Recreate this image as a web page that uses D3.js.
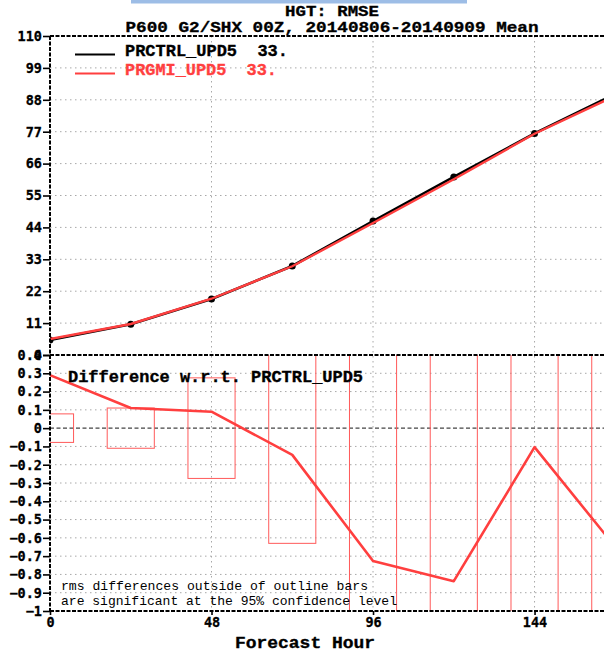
<!DOCTYPE html>
<html>
<head>
<meta charset="utf-8">
<script src="https://cdn.jsdelivr.net/npm/d3@7/dist/d3.min.js"></script>
<style>
  html, body { margin: 0; padding: 0; background: #fff; }
  svg { display: block; }
</style>
</head>
<body>
<script>
// Forecast hours verified
const hours = [0, 24, 48, 72, 96, 120, 144, 168];
// Mean RMSE of 600 hPa height for each experiment
const ctrlRmse = [5.2, 10.6, 19.3, 30.7, 46.2, 61.4, 76.4, 90.0];
const gmiRmse  = [5.5, 10.7, 19.4, 30.6, 45.5, 60.6, 76.3, 89.4];
// RMSE difference (PRGMI minus PRCTRL) and 95% significance half-widths
const rmseDiff = [0.29, 0.11, 0.09, -0.146, -0.727, -0.837, -0.104, -0.65];
const sigHalf  = [0.078, 0.11, 0.275, 0.63, 1.3, 1.5, 1.7, 1.9];
// Axis ticks
const rmseTicks = [0, 11, 22, 33, 44, 55, 66, 77, 88, 99, 110];
const diffTicks = [-1, -0.9, -0.8, -0.7, -0.6, -0.5, -0.4, -0.3, -0.2, -0.1, 0, 0.1, 0.2, 0.3, 0.4];
const hourTicks = [0, 48, 96, 144];
// Series labels
const seriesNames = ["PRCTRL_UPD5", "PRGMI_UPD5"];
const seriesCounts = ["33.", "33."];

const W = 604, H = 655;
const RED = "#ff3f3f";
const BAR = "#ff5a5a";
const MONO = "'Liberation Mono', 'DejaVu Sans Mono', monospace";
const NUM = "'DejaVu Sans Mono', 'Liberation Mono', monospace";

const svg = d3.select("body").append("svg").attr("width", W).attr("height", H);

const x = d3.scaleLinear().domain([0, 168]).range([50, 615.3]);
const yTop = d3.scaleLinear().domain([0, 110]).range([355, 36]);
const yBot = d3.scaleLinear().domain([-1, 0.4]).range([611, 355]);

const defs = svg.append("defs");
defs.append("clipPath").attr("id", "clipTop").append("rect")
  .attr("x", x(0)).attr("y", yTop(110)).attr("width", x(168) - x(0)).attr("height", yTop(0) - yTop(110));
defs.append("clipPath").attr("id", "clipBot").append("rect")
  .attr("x", x(0)).attr("y", yBot(0.4)).attr("width", x(168) - x(0)).attr("height", yBot(-1) - yBot(0.4));

// header strip
svg.append("rect").attr("x", 131).attr("y", 0).attr("width", 336).attr("height", 3.5).attr("fill", "#9dbde6");

// bold text helper: a thin outline thickens the glyphs
function heavy(sel, color) {
  return sel.attr("font-weight", "bold").attr("fill", color).attr("stroke", color).attr("stroke-width", 0.35);
}

// titles
heavy(svg.append("text"), "#000").attr("x", 332).attr("y", 15.5).attr("text-anchor", "middle")
  .attr("font-family", MONO).attr("font-size", 15.5)
  .attr("textLength", 94).attr("lengthAdjust", "spacingAndGlyphs").text("HGT: RMSE");
heavy(svg.append("text"), "#000").attr("x", 332).attr("y", 31.5).attr("text-anchor", "middle")
  .attr("font-family", MONO).attr("font-size", 15.5)
  .attr("textLength", 413).attr("lengthAdjust", "spacingAndGlyphs")
  .text("P600 G2/SHX 00Z, 20140806-20140909 Mean");

// grid
const grid = svg.append("g").attr("stroke", "#a8a8a8").attr("stroke-width", 1).attr("stroke-dasharray", "1.5,3.5");
rmseTicks.filter(v => v > 0 && v < 110).forEach(v => {
  grid.append("line").attr("x1", x(0)).attr("x2", x(168)).attr("y1", yTop(v)).attr("y2", yTop(v));
});
diffTicks.filter(v => v > -1 && v < 0.4 && v !== 0).forEach(v => {
  grid.append("line").attr("x1", x(0)).attr("x2", x(168)).attr("y1", yBot(v)).attr("y2", yBot(v));
});
hourTicks.filter(h => h > 0).forEach(h => {
  grid.append("line").attr("x1", x(h)).attr("x2", x(h)).attr("y1", yTop(110)).attr("y2", yBot(-1));
});

// zero line of the difference panel
svg.append("line").attr("x1", x(0)).attr("x2", x(168)).attr("y1", yBot(0)).attr("y2", yBot(0))
  .attr("stroke", "#444").attr("stroke-width", 1.3).attr("stroke-dasharray", "4,2.5");

// significance outline bars
const bars = svg.append("g").attr("clip-path", "url(#clipBot)");
hours.forEach((h, i) => {
  bars.append("rect")
    .attr("x", x(h - 7)).attr("width", x(h + 7) - x(h - 7))
    .attr("y", yBot(sigHalf[i])).attr("height", yBot(-sigHalf[i]) - yBot(sigHalf[i]))
    .attr("fill", "none").attr("stroke", BAR).attr("stroke-width", 1);
});

// difference line
svg.append("g").attr("clip-path", "url(#clipBot)").append("path")
  .datum(hours.map((h, i) => [h, rmseDiff[i]]))
  .attr("fill", "none").attr("stroke", RED).attr("stroke-width", 2.6).attr("stroke-linejoin", "round")
  .attr("d", d3.line().x(d => x(d[0])).y(d => yBot(d[1])));

// RMSE lines
const rmsePanel = svg.append("g").attr("clip-path", "url(#clipTop)");
const lineTop = d3.line().x(d => x(d[0])).y(d => yTop(d[1]));
rmsePanel.append("path").datum(hours.map((h, i) => [h, ctrlRmse[i]]))
  .attr("fill", "none").attr("stroke", "#000").attr("stroke-width", 2.6).attr("d", lineTop);
rmsePanel.selectAll("circle").data(hours.map((h, i) => [h, ctrlRmse[i]])).join("circle")
  .attr("cx", d => x(d[0])).attr("cy", d => yTop(d[1])).attr("r", 3.5).attr("fill", "#000");
rmsePanel.append("path").datum(hours.map((h, i) => [h, gmiRmse[i]]))
  .attr("fill", "none").attr("stroke", RED).attr("stroke-width", 2.4).attr("d", lineTop);

// frame lines
const frame = svg.append("g").attr("stroke", "#000").attr("stroke-width", 2).attr("stroke-dasharray", "4,1.5");
frame.append("line").attr("x1", x(0)).attr("x2", x(168)).attr("y1", yTop(110)).attr("y2", yTop(110));
frame.append("line").attr("x1", x(0)).attr("x2", x(168)).attr("y1", yTop(0)).attr("y2", yTop(0));
frame.append("line").attr("x1", x(0)).attr("x2", x(168)).attr("y1", yBot(-1)).attr("y2", yBot(-1));
frame.append("line").attr("x1", x(0)).attr("x2", x(0)).attr("y1", yTop(110)).attr("y2", yBot(-1));

// axes
function styleAxis(g) {
  g.select(".domain").remove();
  g.selectAll(".tick line").attr("stroke", "#000").attr("stroke-width", 1.6);
  g.selectAll(".tick text").attr("font-family", NUM).attr("font-weight", "bold")
    .attr("font-size", 13.5).attr("fill", "#000").attr("stroke", "#000").attr("stroke-width", 0.3);
}
svg.append("g").attr("transform", `translate(${x(0)},0)`)
  .call(d3.axisLeft(yTop).tickValues(rmseTicks).tickSize(7).tickPadding(1).tickFormat(d3.format("d")))
  .call(styleAxis);
svg.append("g").attr("transform", `translate(${x(0)},0)`)
  .call(d3.axisLeft(yBot).tickValues(diffTicks).tickSize(7).tickPadding(1).tickFormat(d3.format("~f")))
  .call(styleAxis);
svg.append("g").attr("transform", `translate(0,${yBot(-1)})`)
  .call(d3.axisBottom(x).tickValues(hourTicks).tickSize(4).tickPadding(2.5).tickFormat(d3.format("d")))
  .call(styleAxis);

// legend
const legendY = [54.5, 73.5];
const legendColors = ["#000", RED];
const legendWidths = [163, 152];
seriesNames.forEach((name, i) => {
  svg.append("line").attr("x1", 75).attr("x2", 115).attr("y1", legendY[i]).attr("y2", legendY[i])
    .attr("stroke", legendColors[i]).attr("stroke-width", 2);
  heavy(svg.append("text"), legendColors[i]).attr("x", 125).attr("y", legendY[i] + 1.5)
    .attr("font-family", MONO).attr("font-size", 17)
    .attr("xml:space", "preserve")
    .attr("textLength", legendWidths[i]).attr("lengthAdjust", "spacingAndGlyphs")
    .text(name + "  " + seriesCounts[i]);
});

// difference panel label
heavy(svg.append("text"), "#000").attr("x", 68).attr("y", 382)
  .attr("font-family", MONO).attr("font-size", 16)
  .attr("textLength", 295).attr("lengthAdjust", "spacingAndGlyphs")
  .text("Difference w.r.t. PRCTRL_UPD5");

// significance note
const note = svg.append("g").attr("font-family", MONO).attr("font-size", 13).attr("fill", "#000");
note.append("text").attr("x", 61).attr("y", 589.5)
  .attr("textLength", 307).attr("lengthAdjust", "spacingAndGlyphs")
  .text("rms differences outside of outline bars");
note.append("text").attr("x", 61).attr("y", 605)
  .attr("textLength", 336).attr("lengthAdjust", "spacingAndGlyphs")
  .text("are significant at the 95% confidence level");

// x axis title
heavy(svg.append("text"), "#000").attr("x", 235).attr("y", 648)
  .attr("font-family", MONO).attr("font-size", 16.5)
  .attr("textLength", 140).attr("lengthAdjust", "spacingAndGlyphs")
  .text("Forecast Hour");
</script>
</body>
</html>
